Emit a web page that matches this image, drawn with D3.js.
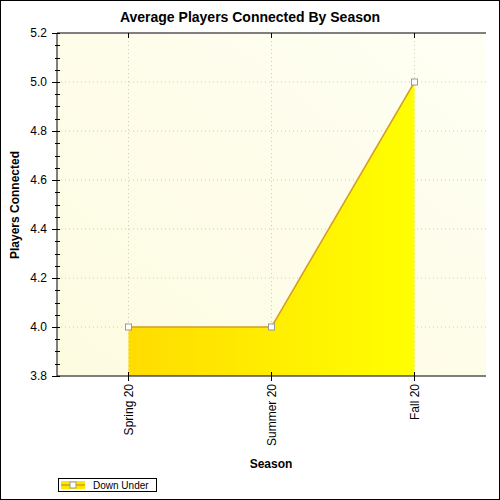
<!DOCTYPE html>
<html><head><meta charset="utf-8">
<script src="https://cdn.jsdelivr.net/npm/d3@7"></script>
<style>body{margin:0}text{font-family:"Liberation Sans",Arial,sans-serif}</style>
</head><body><svg id="c" width="500" height="500"></svg>
<script>
const categories=["Spring 20","Summer 20","Fall 20"];
const values=[4.0,4.0,5.0];
const yTicks=[3.8,4.0,4.2,4.4,4.6,4.8,5.0,5.2];
const seriesName="Down Under";
const svg=d3.select("#c");
const L=57,R=486,T=33,B=376;
svg.append("rect").attr("x",0.5).attr("y",0.5).attr("width",499).attr("height",499).attr("fill","#fff").attr("stroke","#000");
const defs=svg.append("defs");
const bg=defs.append("linearGradient").attr("id","bg").attr("x1",0).attr("y1",1).attr("x2",1).attr("y2",0);
bg.append("stop").attr("offset",0).attr("stop-color","#fdfbe0");
bg.append("stop").attr("offset",1).attr("stop-color","#fffff4");
const ag=defs.append("linearGradient").attr("id","ag").attr("x1",0).attr("y1",0).attr("x2",1).attr("y2",0);
ag.append("stop").attr("offset",0).attr("stop-color","#ffdc00");
ag.append("stop").attr("offset",1).attr("stop-color","#ffff00");
const x=d3.scaleBand().domain(categories).range([L,R]);
const y=d3.scaleLinear().domain([3.8,5.2]).range([B,T]);
svg.append("rect").attr("x",L).attr("y",T).attr("width",R-L).attr("height",B-T).attr("fill","url(#bg)");
const cx=d=>x(d)+x.bandwidth()/2;
const g=svg.append("g");
yTicks.slice(1,-1).forEach(t=>g.append("line").attr("x1",L).attr("x2",R).attr("y1",y(t)).attr("y2",y(t)).attr("stroke","#ccc").attr("stroke-dasharray","1,3"));
categories.forEach(c=>g.append("line").attr("x1",cx(c)).attr("x2",cx(c)).attr("y1",T).attr("y2",B).attr("stroke","#ccc").attr("stroke-dasharray","1,3"));
const pts=categories.map((c,i)=>[cx(c),y(values[i])]);
svg.append("path").datum(pts).attr("d",d3.area().x(d=>d[0]).y0(B).y1(d=>d[1])).attr("fill","url(#ag)");
svg.append("path").datum(pts).attr("d",d3.line()).attr("fill","none").attr("stroke","#d4a020").attr("stroke-width",1.5);
pts.forEach(p=>svg.append("rect").attr("x",p[0]-3).attr("y",p[1]-3).attr("width",6).attr("height",6).attr("fill","#fff").attr("stroke","#999"));
// axes
svg.append("line").attr("x1",L).attr("x2",R).attr("y1",T).attr("y2",T).attr("stroke","#000");
svg.append("line").attr("x1",L).attr("x2",R).attr("y1",B).attr("y2",B).attr("stroke","#000");
svg.append("line").attr("x1",L).attr("x2",L).attr("y1",T).attr("y2",B).attr("stroke","#000");
d3.range(3.8,5.2001,0.05).forEach(t=>{
  const major=yTicks.some(v=>Math.abs(v-t)<1e-6);
  svg.append("line").attr("x1",major?L-5:L-2).attr("x2",L+3).attr("y1",Math.round(y(t))+0.5).attr("y2",Math.round(y(t))+0.5).attr("stroke","#000");
});
yTicks.forEach(t=>svg.append("text").attr("x",L-10).attr("y",y(t)+4).attr("text-anchor","end").attr("font-size",12).text(t.toFixed(1)));
categories.forEach(c=>{
  svg.append("line").attr("x1",cx(c)).attr("x2",cx(c)).attr("y1",B-4).attr("y2",B+5).attr("stroke","#000");
  svg.append("line").attr("x1",cx(c)).attr("x2",cx(c)).attr("y1",T).attr("y2",T+5).attr("stroke","#000");
  svg.append("text").attr("transform",`translate(${cx(c)+4},${B+8}) rotate(-90)`).attr("text-anchor","end").attr("font-size",12).text(c);
});
svg.append("text").attr("x",250).attr("y",22).attr("text-anchor","middle").attr("font-size",14).attr("font-weight","bold").text("Average Players Connected By Season");
svg.append("text").attr("x",271).attr("y",468).attr("text-anchor","middle").attr("font-size",12).attr("font-weight","bold").text("Season");
svg.append("text").attr("transform","translate(19,205) rotate(-90)").attr("text-anchor","middle").attr("font-size",12).attr("font-weight","bold").text("Players Connected");
// legend
svg.append("rect").attr("x",58.5).attr("y",478.5).attr("width",98).attr("height",13).attr("fill","#fff").attr("stroke","#000");
svg.append("rect").attr("x",61).attr("y",481).attr("width",24).attr("height",8).attr("fill","#ffe800");
svg.append("line").attr("x1",61).attr("x2",85).attr("y1",485).attr("y2",485).attr("stroke","#d4a020").attr("stroke-width",1.5);
svg.append("rect").attr("x",70).attr("y",482).attr("width",6).attr("height",6).attr("fill","#fff").attr("stroke","#999");
svg.append("text").attr("x",93).attr("y",489).attr("font-size",10).text(seriesName);
</script></body></html>
